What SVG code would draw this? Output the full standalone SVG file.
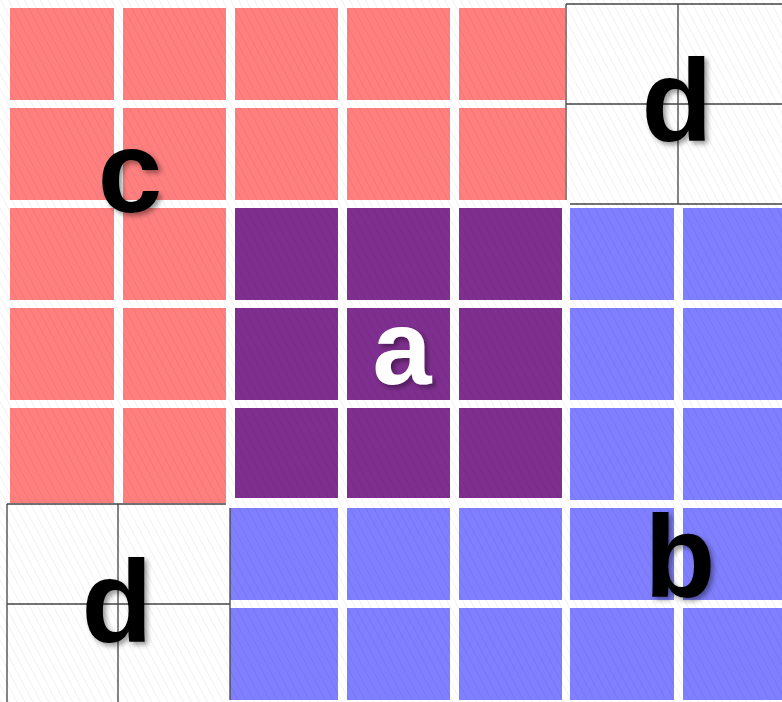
<svg xmlns="http://www.w3.org/2000/svg" width="782" height="702" viewBox="0 0 782 702">
<style>
.c{fill:#ff7f7f}
.a{fill:#7f2f8f}
.b{fill:#7f7fff}
.g{stroke:#444;stroke-width:1.3;fill:none}
.t{font-family:"Liberation Sans",Arial,sans-serif;font-weight:bold;font-size:116px;text-anchor:middle;filter:url(#sh)}
</style>
<defs>
<pattern id="hatch" patternUnits="userSpaceOnUse" width="7" height="7" patternTransform="rotate(-28)">
<line x1="0" y1="0" x2="0" y2="7" stroke="#000" stroke-opacity="0.065" stroke-width="1.5"/>
</pattern>
<filter id="sh" x="-30%" y="-30%" width="160%" height="160%">
<feDropShadow dx="3" dy="3" stdDeviation="2.5" flood-color="#000" flood-opacity="0.4"/>
</filter>
</defs>
<rect width="782" height="702" fill="#fff"/>
<g id="region-c">
<rect class="c" x="10" y="8" width="104" height="92"/>
<rect class="c" x="123" y="8" width="103" height="92"/>
<rect class="c" x="235" y="8" width="103" height="92"/>
<rect class="c" x="347" y="8" width="103" height="92"/>
<rect class="c" x="459" y="8" width="106" height="92"/>
<rect class="c" x="10" y="108" width="104" height="92"/>
<rect class="c" x="123" y="108" width="103" height="92"/>
<rect class="c" x="235" y="108" width="103" height="92"/>
<rect class="c" x="347" y="108" width="103" height="92"/>
<rect class="c" x="459" y="108" width="106" height="92"/>
<rect class="c" x="10" y="208" width="104" height="92"/>
<rect class="c" x="123" y="208" width="103" height="92"/>
<rect class="c" x="10" y="308" width="104" height="92"/>
<rect class="c" x="123" y="308" width="103" height="92"/>
<rect class="c" x="10" y="408" width="104" height="95"/>
<rect class="c" x="123" y="408" width="103" height="95"/>
</g>
<g id="region-a">
<rect class="a" x="235" y="208" width="103" height="92"/>
<rect class="a" x="347" y="208" width="103" height="92"/>
<rect class="a" x="459" y="208" width="103" height="92"/>
<rect class="a" x="235" y="308" width="103" height="92"/>
<rect class="a" x="347" y="308" width="103" height="92"/>
<rect class="a" x="459" y="308" width="103" height="92"/>
<rect class="a" x="235" y="408" width="103" height="90"/>
<rect class="a" x="347" y="408" width="103" height="90"/>
<rect class="a" x="459" y="408" width="103" height="90"/>
</g>
<g id="region-b">
<rect class="b" x="570" y="208" width="104" height="92"/>
<rect class="b" x="683" y="208" width="99" height="92"/>
<rect class="b" x="570" y="308" width="104" height="92"/>
<rect class="b" x="683" y="308" width="99" height="92"/>
<rect class="b" x="570" y="408" width="104" height="92"/>
<rect class="b" x="683" y="408" width="99" height="92"/>
<rect class="b" x="230" y="508" width="108" height="92"/>
<rect class="b" x="347" y="508" width="103" height="92"/>
<rect class="b" x="459" y="508" width="103" height="92"/>
<rect class="b" x="570" y="508" width="104" height="92"/>
<rect class="b" x="683" y="508" width="99" height="92"/>
<rect class="b" x="230" y="608" width="108" height="92"/>
<rect class="b" x="347" y="608" width="103" height="92"/>
<rect class="b" x="459" y="608" width="103" height="92"/>
<rect class="b" x="570" y="608" width="104" height="92"/>
<rect class="b" x="683" y="608" width="99" height="92"/>
</g>
<g id="region-d-top">
<path class="g" d="M566 4H782M566 4V200M566 104H782M678 4V204M570 204H782"/>
</g>
<g id="region-d-bottom">
<path class="g" d="M7 504H226M7 504V702M118 504V702M7 604H230M230 508V700"/>
</g>
<rect width="782" height="702" fill="url(#hatch)"/>
<g id="labels">
<text class="t" x="130" y="212" fill="#000">c</text>
<text class="t" x="677" y="141" fill="#000">d</text>
<text class="t" x="402" y="384" fill="#fff" style="font-size:106px">a</text>
<text class="t" x="680" y="597" fill="#000">b</text>
<text class="t" x="117" y="642" fill="#000">d</text>
</g>
</svg>
